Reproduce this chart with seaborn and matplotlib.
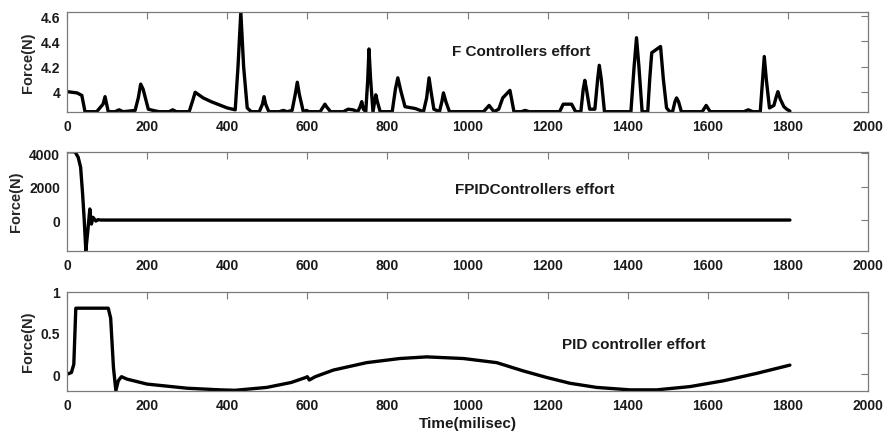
import matplotlib
matplotlib.use("Agg")
import matplotlib.pyplot as plt
import seaborn as sns
import pandas as pd

# ---- data ----
f_time = [0, 25, 37, 45, 74, 82, 90, 95, 99, 103, 120, 130, 140, 170, 178, 184, 190, 203, 215, 230, 255, 264, 273, 305,
          314, 320, 340, 360, 400, 420, 427, 434, 441, 450, 460, 480, 488, 492, 496, 504, 530, 540, 550, 562, 570, 575, 580, 590, 598, 604,
          632, 640, 644, 648, 658, 690, 702, 714, 726, 732, 736, 740, 746, 751, 754, 758, 764, 768, 771, 775, 782, 812, 820, 826, 834, 844, 870, 890, 898, 904,
          909, 916, 930, 936, 940, 946, 955, 1040, 1054, 1066, 1078, 1088, 1106, 1116, 1134, 1144, 1154, 1230, 1239, 1260, 1270, 1283, 1289, 1293,
          1297, 1305, 1318, 1325, 1329, 1334, 1342, 1408, 1416, 1422, 1428, 1436, 1450, 1455, 1460, 1482, 1489, 1497, 1505, 1512, 1518, 1522, 1527, 1534, 1586, 1596, 1606, 1690, 1701,
          1712, 1731, 1737, 1741, 1746, 1754, 1765, 1771, 1775, 1781, 1790, 1797, 1805]
f_val = [4.0, 3.99, 3.97, 3.84, 3.84, 3.87, 3.90, 3.96, 3.90, 3.84, 3.84, 3.855, 3.84, 3.85, 3.95, 4.06, 4.02, 3.86, 3.85, 3.84, 3.84, 3.855, 3.84, 3.84,
         3.93, 3.995, 3.95, 3.92, 3.87, 3.855, 4.20, 4.635, 4.20, 3.87, 3.84, 3.84, 3.90, 3.96, 3.90, 3.84, 3.84, 3.85, 3.84, 3.85, 3.98, 4.075, 3.98, 3.84, 3.85, 3.84,
         3.84, 3.88, 3.90, 3.88, 3.84, 3.84, 3.86, 3.855, 3.84, 3.88, 3.92, 3.86, 3.84, 4.10, 4.34, 4.10, 3.84, 3.92, 3.975, 3.92, 3.84, 3.84, 4.02, 4.11, 4.00, 3.88, 3.865, 3.84, 3.95, 4.11,
         4.00, 3.86, 3.84, 3.92, 3.99, 3.92, 3.84, 3.84, 3.89, 3.84, 3.86, 3.95, 4.01, 3.84, 3.84, 3.85, 3.84, 3.84, 3.90, 3.90, 3.84, 3.84, 4.02, 4.09,
         4.02, 3.86, 3.86, 4.10, 4.21, 4.10, 3.84, 3.84, 4.20, 4.43, 4.20, 3.84, 3.84, 4.10, 4.31, 4.36, 4.10, 3.87, 3.84, 3.84, 3.92, 3.95, 3.92, 3.84, 3.84, 3.89, 3.84, 3.84, 3.855,
         3.84, 3.84, 4.10, 4.28, 4.10, 3.87, 3.89, 3.96, 4.00, 3.94, 3.88, 3.86, 3.845]

fpid_time = [0, 20, 28, 34, 39, 43, 47, 52, 57, 61, 65, 72, 77, 85, 1805]
fpid_val = [4080, 4080, 3740, 3150, 1550, 0, -1830, -640, 660, -240, 160, -60, 20, 0, 0]

pid_time = [0, 11, 17, 22, 103, 109, 116, 122, 128, 136, 150, 200, 300, 383, 420, 499, 560, 596, 600, 605,
            620, 665, 748, 831, 898, 990, 1073, 1139, 1198, 1256, 1322, 1406, 1472, 1556, 1639, 1722, 1805]
pid_val = [0.0, 0.02, 0.12, 0.80, 0.80, 0.68, 0.08, -0.20, -0.08, -0.03, -0.06, -0.12, -0.17, -0.19, -0.195, -0.16, -0.10, -0.04, -0.03, -0.07,
           -0.03, 0.05, 0.14, 0.19, 0.21, 0.19, 0.14, 0.04, -0.04, -0.11, -0.16, -0.19, -0.19, -0.15, -0.08, 0.01, 0.11]

x_ticks = [0, 200, 400, 600, 800, 1000, 1200, 1400, 1600, 1800, 2000]
panels = [
    dict(t=f_time, v=f_val, ylim=(3.84, 4.635), yticks=[4, 4.2, 4.4, 4.6], ylabels=["4", "4.2", "4.4", "4.6"],
         title="F Controllers effort", tpos=(1134, 4.326)),
    dict(t=fpid_time, v=fpid_val, ylim=(-1830, 4080), yticks=[0, 2000, 4000], ylabels=["0", "2000", "4000"],
         title="FPIDControllers effort", tpos=(1169, 1850)),
    dict(t=pid_time, v=pid_val, ylim=(-0.2, 1.0), yticks=[0, 0.5, 1], ylabels=["0", "0.5", "1"],
         title="PID controller effort", tpos=(1416, 0.36)),
]

sns.set_style("white")
plt.rcParams['font.family'] = ['Liberation Sans', 'DejaVu Sans']
plt.rcParams['font.weight'] = 'bold'

fig = plt.figure(figsize=(8.86, 4.35), dpi=100)
W, H = 886, 435
boxes = [(13, 112.7), (152.7, 251.7), (292.7, 391.7)]
left, right = 67, 868
spine_col = "#7a7a7a"
for p, (top, bot) in zip(panels, boxes):
    ax = fig.add_axes([left / W, 1 - bot / H, (right - left) / W, (bot - top) / H])
    df = pd.DataFrame({"t": p["t"], "v": p["v"]})
    sns.lineplot(data=df, x="t", y="v", ax=ax, color="black", linewidth=2.4, sort=False, estimator=None,
                 solid_joinstyle='round', solid_capstyle='round')
    ax.set_xlim(0, 2000)
    ax.set_ylim(*p["ylim"])
    ax.set_xticks(x_ticks)
    ax.set_xticklabels([str(x) for x in x_ticks], fontsize=10, fontweight='bold')
    ax.set_yticks(p["yticks"])
    ax.set_yticklabels(p["ylabels"], fontsize=10, fontweight='bold')
    ax.set_ylabel("Force(N)", fontsize=10.5, fontweight='bold', labelpad=4)
    ax.set_xlabel("")
    ax.tick_params(direction='in', top=True, right=True, length=5, width=0.8,
                   color=spine_col, labelcolor='#1a1a1a', pad=5)
    for s in ax.spines.values():
        s.set_color(spine_col)
        s.set_linewidth(0.9)
        s.set_visible(True)
    ax.text(p["tpos"][0], p["tpos"][1], p["title"], ha='center', va='center',
            fontsize=11, fontweight='bold', color='#1a1a1a')

fig.text(467.5 / W, 1 - 424 / H, "Time(milisec)", ha='center', va='center',
         fontsize=11, fontweight='bold', color='#1a1a1a')

fig.savefig("out.png", dpi=100, facecolor="white")
